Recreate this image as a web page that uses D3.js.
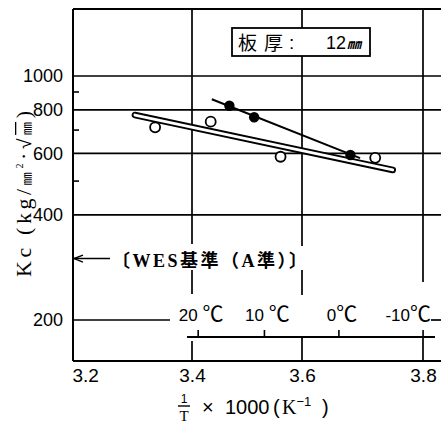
<!DOCTYPE html>
<html><head><meta charset="utf-8">
<script src="https://cdn.jsdelivr.net/npm/d3@7"></script>
<style>body{margin:0;background:#fff}svg{display:block}</style>
</head><body><svg id="c" width="441" height="423"></svg>
<script>
// ---- data ----
const xTicks = [3.2, 3.4, 3.6, 3.8];
const yTicks = [200, 400, 600, 800, 1000];
const yMinor = [500, 700, 900];
const tempTicks = [20, 10, 0, -10];
const openX = [3.338, 3.434, 3.561, 3.721];
const openKc = [713, 740, 587, 583];
const filledX = [3.468, 3.513, 3.680];
const filledKc = [822, 762, 594];
const openFitX = [3.304, 3.750];
const openFitKc = [773, 538];
const filledFitX = [3.436, 3.696];
const filledFitKc = [858, 582];
const wesKc = 300;
const boxLabel = "板厚";
const boxValue = "12";
const boxUnit = "㎜";
const wesLabel = "〔WES基準（A準）〕";

// ---- layout ----
const L = 73, R = 441, T = 9, B = 361;
const svg = d3.select("#c");
const x = d3.scaleLinear().domain(xTicks).range([73, 192, 302, 423]);
const y = d3.scaleLog().domain([200, 1000]).range([320, 76]);
const sans = "'Liberation Sans', Arial, sans-serif";
const cjk = "'Noto Sans CJK JP', sans-serif";
const serif = "'Liberation Serif', 'Noto Sans CJK JP', serif";

const g = svg.append("g").attr("stroke", "#000").attr("fill", "none");
function seg(x1, y1, x2, y2, w) {
  g.append("line").attr("x1", x1).attr("y1", y1).attr("x2", x2).attr("y2", y2)
   .attr("stroke-width", w || 1.7);
}
// horizontal gridlines
yTicks.filter(d => d !== 200).forEach(d => seg(L, y(d), R, y(d)));
seg(L, y(200), 170, y(200));
seg(431, y(200), R, y(200));
// vertical gridlines with gaps where text sits
[[3.4, [[T, 244], [270, 294], [341, B]]],
 [3.6, [[T, 246], [270, 295], [338, B]]],
 [3.8, [[T, 282], [338, B]]]].forEach(([v, parts]) =>
  parts.forEach(p => seg(x(v), p[0], x(v), p[1])));
// frame
seg(L, T, R, T, 2);
seg(L, B, R, B, 2);
seg(L, T, L, B, 2);
// minor ticks
yMinor.forEach(d => seg(L, y(d), L + 6, y(d), 1.6));

// y axis labels
const ya = svg.append("g").attr("transform", `translate(${L},0)`)
  .call(d3.axisLeft(y).tickValues(yTicks).tickSize(0).tickPadding(10).tickFormat(d3.format("d")));
ya.select(".domain").remove();
ya.selectAll("text").attr("font-family", sans).attr("font-size", 18).attr("fill", "#000");

// x axis labels
const xa = svg.append("g").attr("transform", `translate(0,${B})`)
  .call(d3.axisBottom(x).tickValues(xTicks).tickSize(0).tickPadding(8).tickFormat(d3.format(".1f")));
xa.select(".domain").remove();
xa.selectAll("text").attr("font-family", sans).attr("font-size", 19).attr("fill", "#000");
xa.selectAll("text").filter(d => d === xTicks[0]).attr("text-anchor", "start").attr("dx", -1);

// thickness box
svg.append("rect").attr("x", 232).attr("y", 28).attr("width", 138).attr("height", 28)
  .attr("fill", "#fff").attr("stroke", "#000").attr("stroke-width", 1.8);
svg.append("text").attr("x", 238).attr("y", 50).attr("font-family", cjk).attr("font-size", 19)
  .attr("textLength", 45).attr("lengthAdjust", "spacing").text(boxLabel);
svg.append("text").attr("x", 289).attr("y", 49).attr("font-family", sans).attr("font-size", 19)
  .text(":");
svg.append("text").attr("x", 326).attr("y", 49).attr("font-family", sans).attr("font-size", 18)
  .text(boxValue);
svg.append("text").attr("x", 347).attr("y", 49).attr("font-family", cjk).attr("font-size", 14)
  .attr("font-weight", "bold").attr("font-style", "italic").text(boxUnit);

// open-circle fit: double line band
const line = d3.line().x(d => x(d[0])).y(d => y(d[1]));
const openFit = d3.zip(openFitX, openFitKc);
svg.append("path").attr("d", line(openFit)).attr("stroke", "#000").attr("stroke-width", 6.5)
  .attr("stroke-linecap", "round").attr("fill", "none");
svg.append("path").attr("d", line(openFit)).attr("stroke", "#fff").attr("stroke-width", 2.8)
  .attr("stroke-linecap", "round").attr("fill", "none");
// filled-circle fit
svg.append("path").attr("d", line(d3.zip(filledFitX, filledFitKc))).attr("stroke", "#000")
  .attr("stroke-width", 2).attr("fill", "none");
// points
svg.append("g").selectAll("circle").data(d3.zip(openX, openKc)).join("circle")
  .attr("cx", d => x(d[0])).attr("cy", d => y(d[1])).attr("r", 5)
  .attr("fill", "#fff").attr("stroke", "#000").attr("stroke-width", 1.8);
svg.append("g").selectAll("circle").data(d3.zip(filledX, filledKc)).join("circle")
  .attr("cx", d => x(d[0])).attr("cy", d => y(d[1])).attr("r", 5.2).attr("fill", "#000");

// WES standard arrow
const wy = y(wesKc);
seg(L + 1, wy, 110, wy, 1.6);
g.append("path").attr("d", `M${L + 10},${wy - 3.5} L${L + 1},${wy} L${L + 10},${wy + 3.5}`)
  .attr("stroke-width", 1.4);
svg.append("text").attr("x", 112).attr("y", wy + 8).attr("font-family", serif).attr("font-size", 18)
  .attr("font-weight", "bold").attr("textLength", 195).attr("lengthAdjust", "spacing").text(wesLabel);

// temperature axis
const tx = t => x(1000 / (t + 273.15));
seg(187, 337, 435, 337, 1.8);
tempTicks.forEach(t => seg(tx(t), 330, tx(t), 337, 1.6));
tempTicks.forEach((t, i) => {
  const last = i === tempTicks.length - 1;
  const tt = svg.append("text").attr("x", last ? 431 : tx(t) + 3).attr("y", 321)
    .attr("text-anchor", last ? "end" : "middle").attr("font-family", sans).attr("font-size", 17);
  tt.append("tspan").text(last ? "-" + Math.abs(t) : t + (t === 0 ? "" : " "));
  tt.append("tspan").attr("font-family", cjk).attr("font-size", 21).text("℃");
});

// x title
svg.append("text").attr("x", 184).attr("y", 403).attr("text-anchor", "middle")
  .attr("font-family", sans).attr("font-size", 12).text("1");
seg(178, 406, 190, 406, 1.4);
svg.append("text").attr("x", 184).attr("y", 421).attr("text-anchor", "middle")
  .attr("font-family", serif).attr("font-size", 15).text("T");
const xt = svg.append("text").attr("y", 414).attr("font-family", sans).attr("font-size", 20);
xt.append("tspan").attr("x", 202).text("×");
xt.append("tspan").attr("x", 225).text("1000");
xt.append("tspan").attr("x", 273).text("(");
xt.append("tspan").attr("x", 282).attr("font-family", serif).text("K");
xt.append("tspan").attr("font-size", 13).attr("dy", -8).text("−1");
xt.append("tspan").attr("x", 322).attr("dy", 8).text(")");

// y title (rotated)
const yt = svg.append("text").attr("transform", "translate(31,194) rotate(-90)")
  .attr("text-anchor", "middle").attr("font-family", serif).attr("font-size", 22)
  .attr("textLength", 166).attr("lengthAdjust", "spacing");
yt.append("tspan").text("Kc (kg/");
yt.append("tspan").attr("font-family", cjk).attr("font-size", 13).text("㎜");
yt.append("tspan").attr("font-size", 10).attr("dy", -8).text("2");
yt.append("tspan").attr("dy", 8).text("·");
yt.append("tspan").attr("font-family", sans).attr("font-size", 19).text("√");
yt.append("tspan").attr("font-family", cjk).attr("font-size", 13).attr("text-decoration", "overline").text("㎜");
yt.append("tspan").text(")");
</script></body></html>
